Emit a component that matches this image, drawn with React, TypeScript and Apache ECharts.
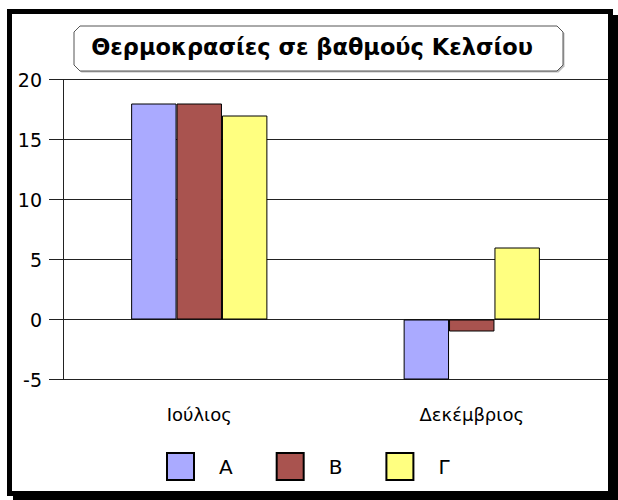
import React, { useEffect, useRef } from "react";
import * as echarts from "echarts";

const categories = ["Ιούλιος", "Δεκέμβριος"];
const seriesNames = ["Α", "Β", "Γ"];
const seriesA = [18, -5];
const seriesB = [18, -1];
const seriesC = [17, 6];
const colors = ["#aaaaff", "#a9534f", "#ffff80"];
const yTicks = { min: -5, max: 20, interval: 5 };
const titleText = "Θερμοκρασίες σε βαθμούς Κελσίου";

const FONT = '"DejaVu Sans", Arial, sans-serif';

export default function App() {
  const ref = useRef<HTMLDivElement>(null);
  useEffect(() => {
    if (!ref.current) return;
    const chart = echarts.init(ref.current, undefined, { renderer: "svg" });
    const data = [seriesA, seriesB, seriesC];
    // chamfered title box
    const bx = 74, by = 26, bw = 489, bh = 45, c = 6;
    const box = [
      [bx + c, by], [bx + bw - c, by], [bx + bw, by + c], [bx + bw, by + bh - c],
      [bx + bw - c, by + bh], [bx + c, by + bh], [bx, by + bh - c], [bx, by + c],
    ];
    chart.setOption({
      animation: false,
      backgroundColor: "transparent",
      textStyle: { fontFamily: FONT },
      title: {
        text: titleText,
        left: 312,
        textAlign: "center",
        top: 35,
        padding: 0,
        textStyle: { fontSize: 22.5, fontWeight: "bold", color: "#000", fontFamily: FONT },
        z: 10,
      },
      graphic: [
        { type: "rect", shape: { x: 13, y: 15, width: 605, height: 485 }, style: { fill: "#000" }, z: -10 },
        {
          type: "rect",
          shape: { x: 9.5, y: 11.5, width: 601, height: 482 },
          style: { fill: "#fff", stroke: "#000", lineWidth: 5 },
          z: -9,
        },
        {
          type: "polygon",
          shape: { points: box.map(([x, y]) => [x + 1.5, y + 1.5]) },
          style: { fill: "#bbb" },
          z: 5,
        },
        {
          type: "polygon",
          shape: { points: box },
          style: { fill: "#fff", stroke: "#555", lineWidth: 1 },
          z: 6,
        },
      ],
      grid: { left: 63, right: 10, top: 79.5, bottom: 120.5, containLabel: false },
      legend: {
        left: 166,
        top: 452,
        padding: 0,
        itemWidth: 27,
        itemHeight: 27,
        itemGap: 43,
        icon: "rect",
        data: seriesNames,
        textStyle: { fontSize: 20, color: "#000", fontFamily: FONT, padding: [0, 0, 0, 20] },
      },
      xAxis: {
        type: "category",
        data: categories,
        axisLine: { onZero: false, lineStyle: { color: "#222", width: 1 } },
        axisTick: { alignWithLabel: true, length: 11, lineStyle: { color: "#222" } },
        axisLabel: { fontSize: 18, color: "#000", margin: 26, fontFamily: FONT },
      },
      yAxis: {
        type: "value",
        min: yTicks.min,
        max: yTicks.max,
        interval: yTicks.interval,
        axisLine: { show: true, lineStyle: { color: "#222", width: 1 } },
        axisTick: { show: true, length: 14, lineStyle: { color: "#222" } },
        axisLabel: { fontSize: 19, color: "#000", margin: 21, fontFamily: FONT },
        splitLine: { show: true, lineStyle: { color: "#222", width: 1 } },
      },
      series: seriesNames.map((name, i) => ({
        name,
        type: "bar",
        data: data[i],
        barGap: "0%",
        barCategoryGap: "50%",
        itemStyle: { color: colors[i], borderColor: "#000", borderWidth: 1 },
      })),
    });
    return () => chart.dispose();
  }, []);
  return (
    <div
      ref={ref}
      style={{ position: "absolute", left: 0, top: 0, width: 618, height: 500 }}
    />
  );
}
